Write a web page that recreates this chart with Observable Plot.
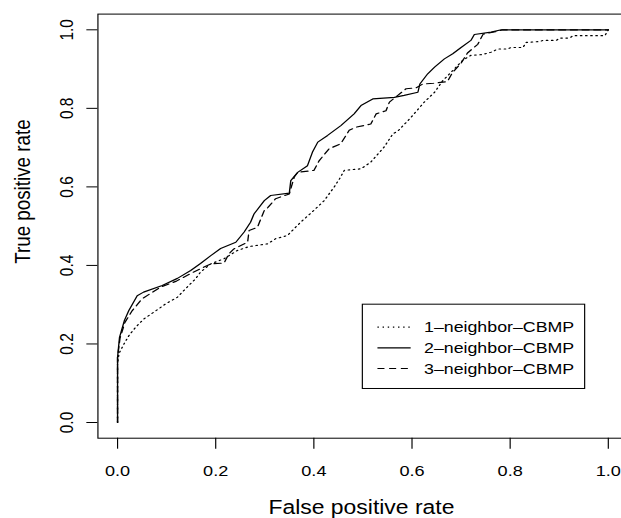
<!DOCTYPE html>
<html><head><meta charset="utf-8">
<script src="https://cdn.jsdelivr.net/npm/d3@7"></script>
<script src="https://cdn.jsdelivr.net/npm/@observablehq/plot@0.6"></script>
<style>
html,body{margin:0;padding:0;overflow:hidden;background:#fff;width:621px;height:518px}
#chart{transform:scaleX(1.17);transform-origin:0 0;width:540px}
</style></head><body><div id="chart"></div>
<script>
const seriesNames = ["1\u2013neighbor\u2013CBMP", "2\u2013neighbor\u2013CBMP", "3\u2013neighbor\u2013CBMP"];
const seriesDash = ["1.2,3.2", null, "6,4"];

// 1-neighbor-CBMP (dotted)
const fpr1 = [0,0,0.003,0.013,0.023,0.037,0.054,0.074,0.098,0.122,0.142,0.159,0.169,0.19,0.217,0.244,0.268,0.306,0.322,0.346,0.373,0.4,0.421,0.441,0.452,0.462,0.496,0.516,0.543,0.561,0.571,0.598,0.625,0.646,0.663,0.683,0.703,0.72,0.744,0.761,0.775,0.795,0.802,0.826,0.833,0.86,0.867,0.894,0.901,0.921,0.928,0.993,1.0];
const tpr1 = [0,0.15,0.176,0.2,0.221,0.243,0.264,0.281,0.302,0.319,0.345,0.366,0.383,0.404,0.417,0.438,0.448,0.455,0.468,0.476,0.51,0.54,0.565,0.599,0.62,0.642,0.646,0.663,0.701,0.735,0.742,0.777,0.816,0.841,0.871,0.896,0.922,0.935,0.937,0.943,0.951,0.951,0.955,0.955,0.968,0.97,0.973,0.973,0.979,0.979,0.985,0.985,1.0];

// 2-neighbor-CBMP (solid)
const fpr2 = [0,0,0.004,0.014,0.023,0.04,0.053,0.091,0.122,0.149,0.169,0.19,0.21,0.241,0.258,0.271,0.278,0.299,0.312,0.35,0.353,0.367,0.387,0.397,0.408,0.428,0.455,0.482,0.496,0.52,0.564,0.584,0.612,0.616,0.632,0.646,0.666,0.683,0.7,0.72,0.727,0.761,0.782,1.0];
const tpr2 = [0,0.166,0.217,0.26,0.285,0.323,0.332,0.349,0.367,0.387,0.405,0.425,0.443,0.459,0.485,0.51,0.531,0.565,0.578,0.584,0.616,0.637,0.654,0.688,0.714,0.731,0.756,0.786,0.807,0.824,0.828,0.833,0.841,0.862,0.888,0.905,0.926,0.939,0.955,0.973,0.988,0.994,1.0,1.0];

// 3-neighbor-CBMP (dashed)
const fpr3 = [0,0,0.005,0.015,0.03,0.05,0.088,0.12,0.15,0.19,0.217,0.227,0.237,0.265,0.268,0.285,0.299,0.306,0.322,0.35,0.36,0.367,0.4,0.411,0.431,0.455,0.472,0.486,0.516,0.527,0.547,0.554,0.571,0.588,0.608,0.622,0.644,0.672,0.682,0.7,0.713,0.734,0.745,0.77,0.785,1.0];
const tpr3 = [0,0.166,0.215,0.255,0.285,0.315,0.345,0.36,0.38,0.404,0.406,0.43,0.442,0.459,0.489,0.497,0.54,0.547,0.57,0.582,0.625,0.637,0.642,0.667,0.697,0.71,0.744,0.752,0.76,0.786,0.794,0.816,0.833,0.85,0.852,0.862,0.864,0.868,0.89,0.915,0.941,0.963,0.989,0.995,1.0,1.0];

const xTicks = [0, 0.2, 0.4, 0.6, 0.8, 1.0];
const yTicks = [0, 0.2, 0.4, 0.6, 0.8, 1.0];
const xTitle = "False positive rate";
const yTitle = "True positive rate";
const legendAt = {x: 0.5, y: 0.3};

const fprs = [fpr1, fpr2, fpr3];
const tprs = [tpr1, tpr2, tpr3];
const series = seriesNames.map((name, i) => fprs[i].map((f, j) => ({series: name, fpr: f, tpr: tprs[i][j]})));

const fmt = d3.format(".1f");
const plot = Plot.plot({
  width: 540, height: 518,
  marginLeft: 83.2, marginRight: 3.8, marginTop: 13.6, marginBottom: 80.3,
  x: {domain: [-0.04, 1.04]},
  y: {domain: [-0.04, 1.04]},
  style: {fontFamily: "'Liberation Sans', Arial, Helvetica, sans-serif", fontSize: "15.5px", color: "#000", background: "#fff"},
  marks: [
    Plot.frame({stroke: "#000", strokeWidth: 1}),
    Plot.axisX({ticks: xTicks, tickSize: 11, tickPadding: 15.6, tickFormat: fmt, label: null, fontSize: 15.5}),
    Plot.axisY({ticks: yTicks, tickSize: 9.4, tickPadding: 12.2, tickRotate: -90, tickFormat: fmt, label: null, fontSize: 15.5}),
    Plot.text([xTitle], {frameAnchor: "bottom", lineAnchor: "top", dy: 62.3, dx: -1.3, fontSize: 19.6}),
    Plot.text([yTitle], {frameAnchor: "left", rotate: -90, lineAnchor: "top", dx: -71.8, dy: 37.7, fontSize: 18.8}),
    ...series.map((d, i) => Plot.line(d, {x: "fpr", y: "tpr", stroke: "#000", strokeWidth: 1.15, strokeDasharray: seriesDash[i] ?? undefined}))
  ]
});

// legend inside plot, placed through the plot's scales
const sx = plot.scale("x"), sy = plot.scale("y");
const L = sx.apply(legendAt.x), T = sy.apply(legendAt.y);
const svg = d3.select(plot);
const g = svg.append("g")
  .attr("font-family", "'Liberation Sans', Arial, Helvetica, sans-serif")
  .attr("font-size", 15.2)
  .attr("text-anchor", "start");
g.append("rect").attr("x", L).attr("y", T).attr("width", 190).attr("height", 84.3)
  .attr("fill", "#fff").attr("stroke", "#000").attr("stroke-width", 1);
seriesNames.forEach((name, i) => {
  const ln = g.append("line").attr("x1", L + 12.9).attr("x2", L + 41.3)
    .attr("y1", T + 23 + 20.65 * i).attr("y2", T + 23 + 20.65 * i)
    .attr("stroke", "#000").attr("stroke-width", 1.15);
  if (seriesDash[i]) ln.attr("stroke-dasharray", seriesDash[i]);
  g.append("text").attr("x", L + 52.7).attr("y", T + 28.3 + 20.85 * i)
    .attr("text-anchor", "start").attr("fill", "#000").text(name);
});
document.getElementById("chart").appendChild(plot);
</script></body></html>
